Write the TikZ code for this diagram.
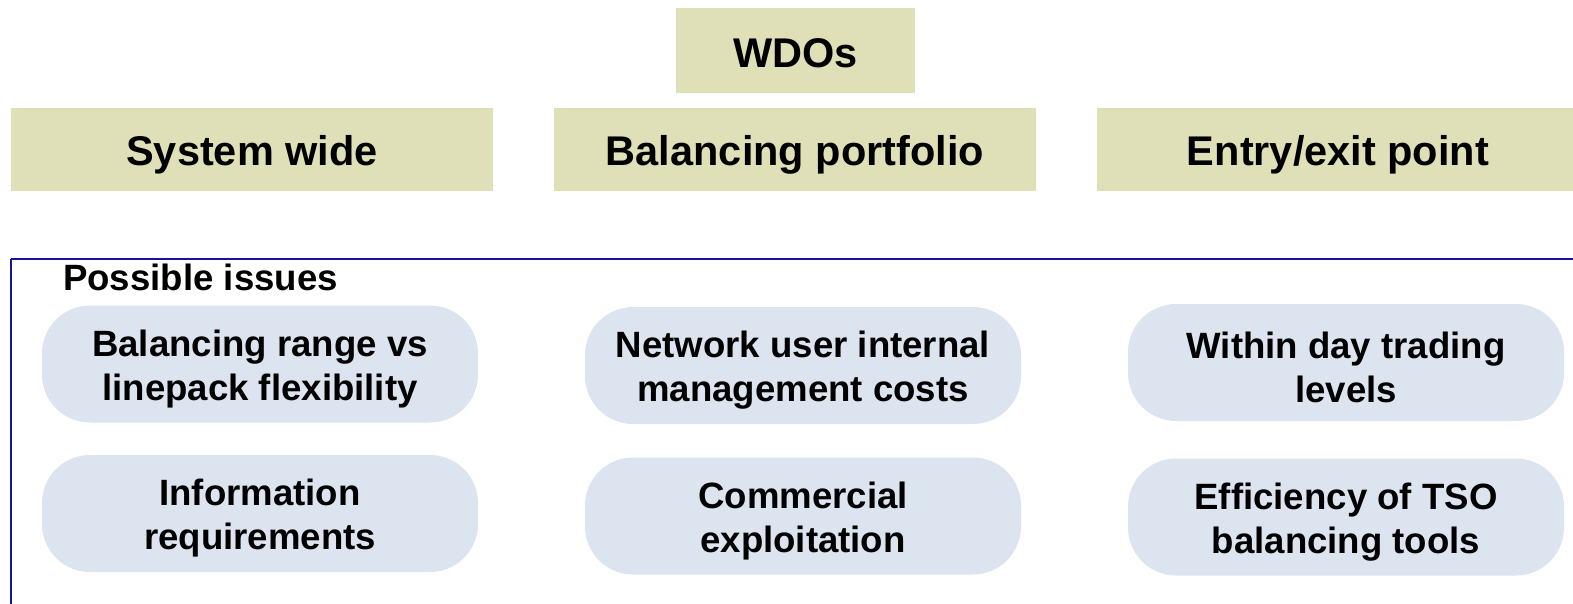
\documentclass[tikz,border=0pt]{standalone}
\usepackage{fontspec}
\setmainfont{Liberation Sans}
\definecolor{tanbox}{HTML}{DFDFB8}
\definecolor{bluebox}{HTML}{DCE4F0}
\definecolor{framec}{HTML}{14149C}
\begin{document}
\begin{tikzpicture}[x=1pt,y=-1pt,
  head/.style={fill=tanbox, draw=none, inner sep=0pt},
  headtext/.style={inner sep=0pt, font=\fontsize{41.5}{48}\selectfont\bfseries},
  issue/.style={fill=bluebox, draw=none, rounded corners=48pt, inner sep=0pt,
    minimum width=436pt, minimum height=117pt},
  issuetext/.style={inner sep=0pt, align=center, font=\fontsize{36.6}{44}\selectfont\bfseries},
  frameline/.style={draw=framec, line width=2.6pt}]
\useasboundingbox (0,0) rectangle (1573,603);
\clip (0,0) rectangle (1573,603);
\node[head, minimum width=239pt, minimum height=85pt] (wdo) at (795.5,50.5) {};
\node[headtext] (wdot) at ([yshift=-3pt]wdo.center) {WDOs};
\node[head, minimum width=482pt, minimum height=83pt] (sys) at (252,149.5) {};
\node[headtext] (syst) at ([yshift=-5pt]sys.center) {System wide};
\node[head, minimum width=482pt, minimum height=83pt] (bal) at (795,149.5) {};
\node[headtext] (balt) at ([yshift=-5pt]bal.center) {Balancing portfolio};
\node[head, minimum width=482pt, minimum height=83pt, anchor=west] (ent) at (1097,149.5) {};
\node[headtext] (entt) at (1338,154.5) {Entry/exit point};
\coordinate (fr) at (11,259);
\draw[frameline] (fr) -- ++(0,400) (fr) -- ++(1600,0);
\node[issuetext, anchor=west] (pi) at (63,277) {Possible issues};
\node[issue] (a1) at (260,364) {};
\node[issue] (a2) at (260,513.5) {};
\node[issue] (b1) at (803,365.5) {};
\node[issue] (b2) at (803,516) {};
\node[issue] (c1) at (1346,362.5) {};
\node[issue] (c2) at (1346,517) {};
\node[issuetext] (a1t) at ([yshift=-5pt]a1.center) {Balancing range vs\\linepack flexibility};
\node[issuetext] (a2t) at ([yshift=-5pt]a2.center) {Information\\requirements};
\node[issuetext] (b1t) at ([yshift=-5pt]b1.center) {Network user internal\\management costs};
\node[issuetext] (b2t) at ([yshift=-5pt]b2.center) {Commercial\\exploitation};
\node[issuetext] (c1t) at ([yshift=-5pt]c1.center) {Within day trading\\levels};
\node[issuetext] (c2t) at ([yshift=-5pt]c2.center) {Efficiency of TSO\\balancing tools};
\end{tikzpicture}
\end{document}
